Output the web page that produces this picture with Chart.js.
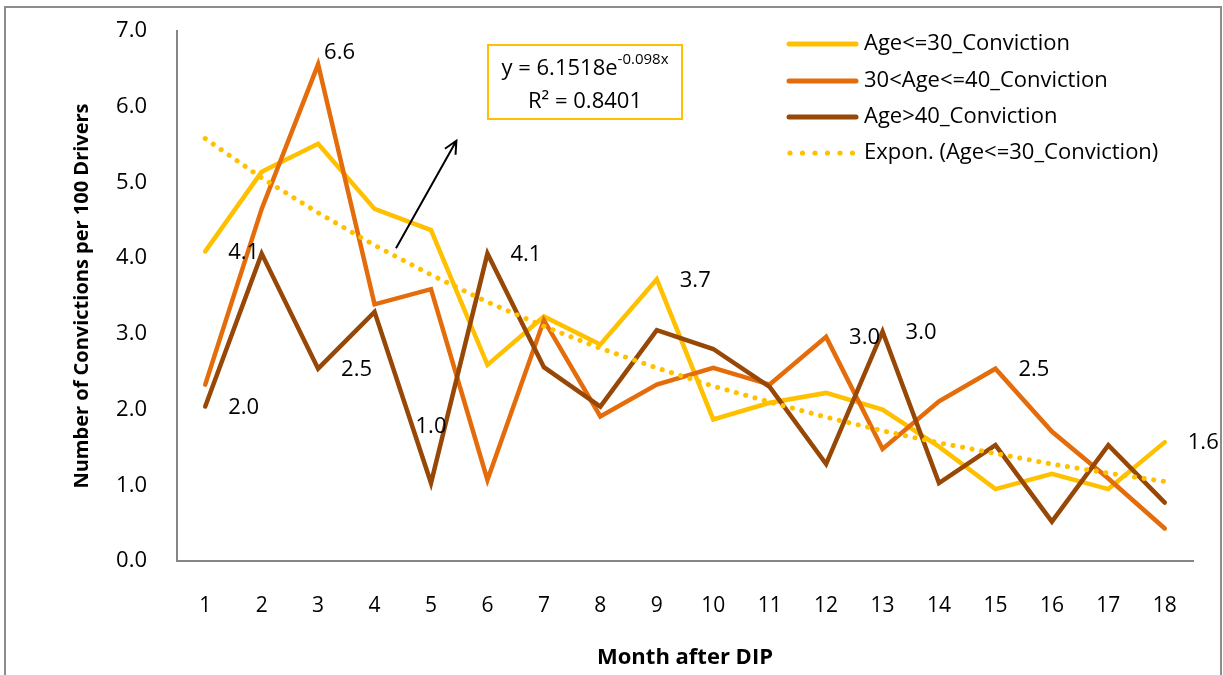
<!DOCTYPE html>
<html>
<head>
<meta charset="utf-8">
<script src="https://cdn.jsdelivr.net/npm/chart.js@4.4.1/dist/chart.umd.min.js"></script>
<style>
  html, body { margin: 0; padding: 0; background: #fff; }
  #wrap { width: 1223px; height: 675px; position: relative; }
</style>
</head>
<body>
<div id="wrap"><canvas id="convChart"></canvas></div>
<script>
// month after DIP
const months = ['1','2','3','4','5','6','7','8','9','10','11','12','13','14','15','16','17','18'];

// convictions per 100 drivers
const ageUnder30 = [4.09,5.14,5.51,4.65,4.37,2.59,3.23,2.86,3.72,1.87,2.09,2.22,2.00,1.51,0.95,1.15,0.95,1.57];
const age30to40  = [2.33,4.65,6.56,3.39,3.59,1.07,3.18,1.91,2.33,2.55,2.33,2.96,1.48,2.11,2.54,1.71,1.09,0.43];
const ageOver40  = [2.04,4.06,2.54,3.29,1.03,4.06,2.56,2.04,3.05,2.80,2.30,1.28,3.03,1.03,1.53,0.52,1.53,0.77];
// dotted exponential trend of the first series
const trendUnder30 = [5.58,5.06,4.60,4.17,3.78,3.42,3.10,2.81,2.55,2.31,2.10,1.90,1.72,1.56,1.42,1.28,1.16,1.05];

const yMin = 0, yMax = 7, yStep = 1;

const seriesNames = ['Age<=30_Conviction', '30<Age<=40_Conviction', 'Age>40_Conviction', 'Expon. (Age<=30_Conviction)'];
const colors = ['#FFC000', '#E46C0A', '#974706', '#FFC000'];

// which points carry a value label: [dataset, point]
const labelled = [[0,0],[2,0],[1,2],[2,2],[2,4],[2,5],[0,8],[1,11],[2,12],[1,14],[0,17]];

const FONT = '"Open Sans", "Noto Sans", sans-serif';

// draws the value labels, the equation box, the arrow, the legend and the frame
const extras = {
  id: 'extras',
  afterDatasetsDraw(chart) {
    const ctx = chart.ctx;
    const xs = chart.scales.x, ys = chart.scales.y;
    const area = chart.chartArea;
    ctx.save();

    // value labels (right of the point, a couple nudged by hand like the original)
    ctx.font = '22px ' + FONT;
    ctx.fillStyle = '#000';
    ctx.textBaseline = 'middle';
    labelled.forEach(([d, i]) => {
      const pt = chart.getDatasetMeta(d).data[i];
      const v = chart.data.datasets[d].data[i];
      let dx = 23, dy = 1, align = 'left';
      if (d === 1 && i === 2) { dx = 6; dy = -12; }
      if (d === 2 && i === 4) { dx = 0; dy = -56; align = 'center'; }
      ctx.textAlign = align;
      ctx.fillText(v.toFixed(1), pt.x + dx, pt.y + dy);
    });

    // equation box
    const bx = area.left + 311, by = area.top + 14, bw = 194, bh = 74;
    ctx.strokeStyle = '#FFC000';
    ctx.lineWidth = 2;
    ctx.strokeRect(bx, by, bw, bh);
    ctx.fillStyle = '#000';
    ctx.textAlign = 'left';
    ctx.textBaseline = 'alphabetic';
    const main = 'y = 6.1518e', sup = '-0.098x';
    ctx.font = '22px ' + FONT;
    const w1 = ctx.measureText(main).width;
    ctx.font = '15px ' + FONT;
    const w2 = ctx.measureText(sup).width;
    const sx = bx + bw / 2 - (w1 + w2) / 2;
    ctx.font = '22px ' + FONT;
    ctx.fillText(main, sx, by + 30);
    ctx.font = '15px ' + FONT;
    ctx.fillText(sup, sx + w1, by + 19);
    ctx.font = '22px ' + FONT;
    ctx.textAlign = 'center';
    ctx.fillText('R\u00B2 = 0.8401', bx + bw / 2, by + 63);

    // arrow
    const x0 = xs.getPixelForValue(3.38), y0 = ys.getPixelForValue(4.13);
    const x1 = xs.getPixelForValue(4.45), y1 = ys.getPixelForValue(5.55);
    ctx.strokeStyle = '#000';
    ctx.lineWidth = 2;
    ctx.beginPath();
    ctx.moveTo(x0, y0);
    ctx.lineTo(x1, y1);
    const ang = Math.atan2(y1 - y0, x1 - x0);
    ctx.moveTo(x1 - 14 * Math.cos(ang - 0.45), y1 - 14 * Math.sin(ang - 0.45));
    ctx.lineTo(x1, y1);
    ctx.lineTo(x1 - 14 * Math.cos(ang + 0.45), y1 - 14 * Math.sin(ang + 0.45));
    ctx.stroke();

    // legend
    const lx = 787, ly = [44, 81, 117, 153];
    ctx.font = '22px ' + FONT;
    ctx.textAlign = 'left';
    ctx.textBaseline = 'middle';
    seriesNames.forEach((name, k) => {
      ctx.strokeStyle = colors[k];
      ctx.fillStyle = colors[k];
      if (k < 3) {
        ctx.lineWidth = 5;
        ctx.lineCap = 'round';
        ctx.beginPath();
        ctx.moveTo(lx + 2, ly[k]);
        ctx.lineTo(lx + 69, ly[k]);
        ctx.stroke();
      } else {
        for (let j = 0; j < 6; j++) {
          ctx.beginPath();
          ctx.arc(lx + 3 + j * 12.5, ly[k], 2.6, 0, Math.PI * 2);
          ctx.fill();
        }
      }
      ctx.fillStyle = '#000';
      ctx.fillText(name, lx + 77, ly[k]);
    });

    // outer frame
    ctx.strokeStyle = '#8c8c8c';
    ctx.lineWidth = 2;
    ctx.strokeRect(5, 7, 1216, 680);
    ctx.restore();
  }
};

const lineDs = (k, data, order) => ({
  label: seriesNames[k],
  data: data,
  borderColor: colors[k],
  backgroundColor: colors[k],
  borderWidth: 4.5,
  borderCapStyle: 'round',
  pointRadius: 0,
  tension: 0,
  order: order
});

const trendDs = lineDs(3, trendUnder30, 1);
trendDs.borderWidth = 5;
trendDs.borderDash = [0.1, 9.6];

new Chart(document.getElementById('convChart'), {
  type: 'line',
  data: {
    labels: months,
    datasets: [
      lineDs(0, ageUnder30, 4),
      lineDs(1, age30to40, 3),
      lineDs(2, ageOver40, 2),
      trendDs
    ]
  },
  options: {
    responsive: true,
    maintainAspectRatio: false,
    animation: false,
    layout: { padding: { left: 0, right: 30, top: 31, bottom: 0 } },
    plugins: {
      legend: { display: false },
      tooltip: { enabled: false }
    },
    scales: {
      x: {
        offset: true,
        grid: { display: false, drawTicks: false },
        border: { display: true, color: '#868686', width: 2 },
        ticks: { color: '#000', font: { family: FONT, size: 21 }, padding: 32, maxRotation: 0 },
        title: { display: true, text: 'Month after DIP', color: '#000',
                 font: { family: FONT, size: 22, weight: 'bold' }, padding: { top: 0, bottom: 4 } },
        afterFit(scale) { scale.height = 114; }
      },
      y: {
        min: yMin, max: yMax,
        grid: { display: false, drawTicks: false },
        border: { display: true, color: '#868686', width: 2 },
        ticks: { stepSize: yStep, color: '#000', font: { family: FONT, size: 22 }, padding: 30,
                 callback: v => v.toFixed(1) },
        title: { display: true, text: 'Number of Convictions per 100 Drivers', color: '#000',
                 font: { family: FONT, size: 20, weight: 'bold' }, padding: { top: 70, bottom: 0 } },
        afterFit(scale) {
          scale.width = 177;
          // tick padding would otherwise push the plot top down
          scale.paddingTop = 0;
          scale.paddingBottom = 0;
        }
      }
    }
  },
  plugins: [extras]
});
</script>
</body>
</html>
